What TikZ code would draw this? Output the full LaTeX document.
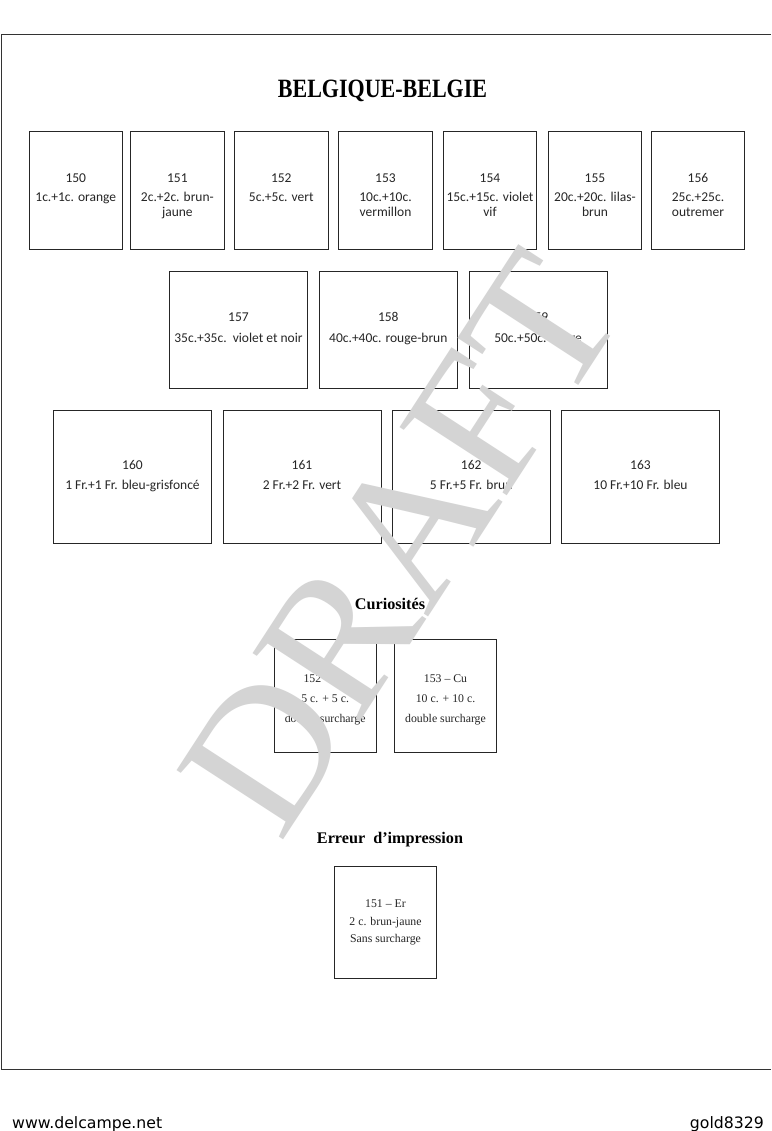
\documentclass[tikz,border=0pt]{standalone}
\usepackage{fontspec}
\setmainfont{Liberation Serif}
\newfontfamily\calibrifont{Carlito}
\newfontfamily\dejavufont{DejaVu Sans}
\begin{document}
\begin{tikzpicture}[x=1pt,y=-1pt,
  stamp/.style={draw=black!85,line width=0.9pt,inner sep=0pt},
  ctxt/.style={anchor=base,inner sep=0pt,font=\calibrifont\fontsize{13.5}{15}\selectfont,text=black!85},
  ttxt/.style={anchor=base,inner sep=0pt,font=\fontsize{11.8}{14}\selectfont,text=black!85},
  head/.style={anchor=base,inner sep=0pt,font=\bfseries\fontsize{16.2}{19}\selectfont},
  wm/.style={inner sep=0pt,text=black!17,font=\fontsize{194}{194}\selectfont}]
\useasboundingbox (0,0) rectangle (771,1131);
\fill[white] (0,0) rectangle (771,1131);
% page frame
\coordinate (ftl) at (1,35);
\coordinate (ftr) at (771,35);
\coordinate (fbl) at (1,1069);
\coordinate (fbr) at (771,1069);
\draw[black!80,line width=1pt] (ftr) -- (ftl) -- (fbl) -- (fbr);
% title
\node[anchor=base,inner sep=0pt,font=\bfseries\fontsize{22}{24}\selectfont,yscale=1.2] (title) at (382.5,97.5) {BELGIQUE-BELGIE};
% row 1
\foreach \nm/\cx/\a/\b in {150/75.8/1c.+1c. orange/,151/177.4/2c.+2c. brun-/jaune,152/281.3/5c.+5c. vert/,153/385.5/10c.+10c./vermillon,154/490/15c.+15c. violet/vif,155/595/20c.+20c. lilas-/brun,156/698/25c.+25c./outremer}{
  \node[stamp,minimum width=93.5,minimum height=117.6] (b\nm) at (\cx,190.5) {};
  \node[ctxt] (n\nm) at (\cx,182.5) {\nm};
  \node[ctxt] (l\nm) at (\cx,202) {\a};
  \node[ctxt] (m\nm) at (\cx,217) {\b};
}
% row 2
\foreach \nm/\cx/\a in {157/238.5/35c.+35c.\ \ violet et noir,158/388.3/40c.+40c. rouge-brun,159/538/50c.+50c. bistre}{
  \node[stamp,minimum width=138,minimum height=117] (b\nm) at (\cx,329.5) {};
  \node[ctxt] (n\nm) at (\cx,321) {\nm};
  \node[ctxt] (l\nm) at (\cx,342) {\a};
}
% row 3
\foreach \nm/\cx/\a in {160/132.5/1 Fr.+1 Fr. bleu-grisfoncé,161/302/2 Fr.+2 Fr. vert,162/471.2/5 Fr.+5 Fr. brun,163/640.5/10 Fr.+10 Fr. bleu}{
  \node[stamp,minimum width=158,minimum height=133.5] (b\nm) at (\cx,476.7) {};
  \node[ctxt] (n\nm) at (\cx,469.5) {\nm};
  \node[ctxt] (l\nm) at (\cx,489) {\a};
}
% Curiosites
\node[head] (cur) at (390,609.5) {Curiosités};
\node[stamp,minimum width=101.7,minimum height=113.4] (c152) at (325.2,696) {};
\node[ttxt] (c152a) at (325.2,682) {152 – Cu};
\node[ttxt] (c152b) at (325.2,702) {5 c. + 5 c.};
\node[ttxt] (c152c) at (325.2,722.5) {double surcharge};
\node[stamp,minimum width=102.4,minimum height=113.4] (c153) at (445.5,696) {};
\node[ttxt] (c153a) at (445.5,682) {153 – Cu};
\node[ttxt] (c153b) at (445.5,702) {10 c. + 10 c.};
\node[ttxt] (c153c) at (445.5,722.5) {double surcharge};
% Erreur
\node[head] (err) at (390,843.5) {Erreur\ \ d’impression};
\node[stamp,minimum width=102.4,minimum height=111.6] (e151) at (385.5,922.5) {};
\node[ttxt] (e151a) at (385.5,907) {151 – Er};
\node[ttxt] (e151b) at (385.5,925.5) {2 c. brun-jaune};
\node[ttxt] (e151c) at (385.5,942) {Sans surcharge};
% watermark
\node[wm,rotate=57] (draft) at (400,543) {DRAFT};
% footer
\node[anchor=base west,inner sep=0pt,font=\dejavufont\fontsize{15.7}{18}\selectfont] (site) at (12,1128) {www.delcampe.net};
\node[anchor=base east,inner sep=0pt,font=\dejavufont\fontsize{15.7}{18}\selectfont] (user) at (764,1128) {gold8329};
\end{tikzpicture}
\end{document}
